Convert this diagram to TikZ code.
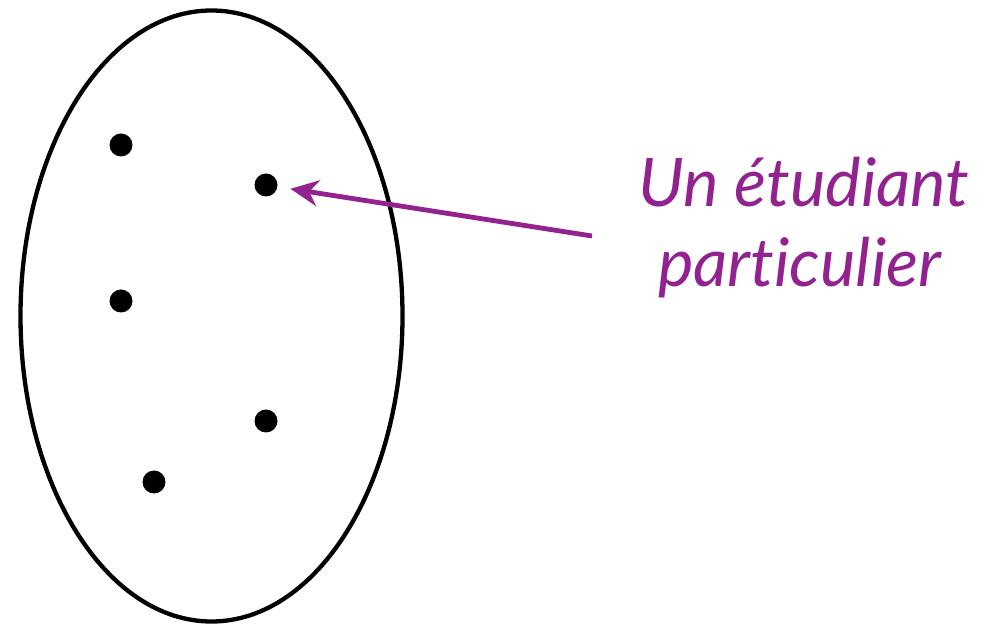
\documentclass[tikz,border=0pt]{standalone}
\usepackage{fontspec}
\setmainfont{Lato}[Ligatures=NoCommon]
\usetikzlibrary{arrows.meta}
\definecolor{plum}{RGB}{146,34,143}
\begin{document}
\begin{tikzpicture}[x=1pt,y=1pt,
  dot/.style={circle,fill=black,inner sep=0pt,minimum size=23pt},
  lbl/.style={anchor=base west,inner sep=0pt,text=plum,font=\fontsize{67}{67}\selectfont\itshape}]
\useasboundingbox (0,0) rectangle (996,624);
\draw[line width=4.3pt] (211.5,308) ellipse [x radius=191, y radius=305.5];
\node[dot] (d1) at (121,479) {};
\node[dot] (d2) at (266,439) {};
\node[dot] (d3) at (121,323) {};
\node[dot] (d4) at (266,203) {};
\node[dot] (d5) at (154,142) {};
\node[lbl] (t1) at (638,417) {Un étudiant};
\node[lbl] (t2) at (658,337) {particulier};
\coordinate (s) at (592,388);
\draw[plum,line width=4.8pt,-{Stealth[length=28pt,width=26pt]},shorten >=13pt] (s) -- (d2);
\end{tikzpicture}
\end{document}
